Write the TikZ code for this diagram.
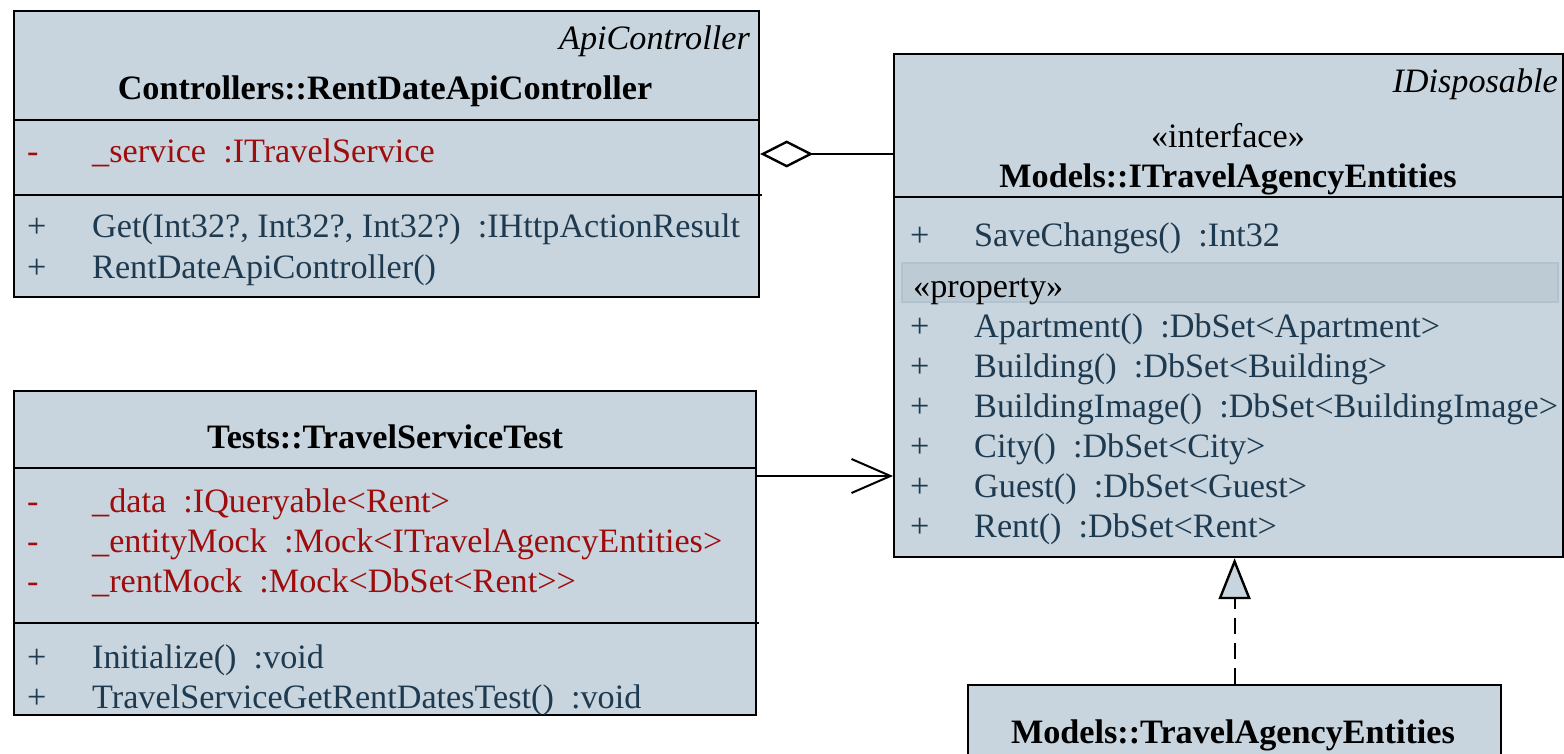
\documentclass[tikz,border=0pt]{standalone}
\usepackage{fontspec}
\setmainfont{Liberation Serif}
\usetikzlibrary{arrows.meta}

\definecolor{umlfill}{RGB}{200,213,222}
\definecolor{umlband}{RGB}{189,203,213}
\definecolor{umlbandline}{RGB}{178,195,207}
\definecolor{umlred}{RGB}{158,12,12}
\definecolor{umlblue}{RGB}{30,58,80}

\newcommand{\umlsize}{\fontsize{34.2}{40}\selectfont}

\tikzset{
	umlbox/.style={draw, line width=2.2pt, fill=umlfill, anchor=north west, inner sep=0pt},
	txt/.style={inner sep=0pt, font=\umlsize},
	title/.style={inner sep=0pt, anchor=base, font=\umlsize\bfseries},
	base/.style={inner sep=0pt, anchor=base east, font=\umlsize\itshape},
	stereo/.style={txt, anchor=base},
	attr/.style={txt, anchor=base west, text=umlred},
	oper/.style={txt, anchor=base west, text=umlblue},
	sep/.style={line width=2.2pt},
}

\begin{document}
\begin{tikzpicture}[x=1pt, y=-1pt]
				\useasboundingbox (0,0) rectangle (1564,754);
				% RentDateApiController
				\node[umlbox, minimum width=745pt, minimum height=286pt] (ctrl) at (13,10) {};
				\node[base] (ctrlbase) at (750,50) {ApiController};
				\node[title] (ctrlname) at (385,100) {Controllers::RentDateApiController};
				\draw[sep] (13,120) -- (758,120);
				\draw[sep] (13,195) -- (762,195);
				\node[attr] (ctrlv1) at (27,163) {-};
				\node[attr] (ctrla1) at (92,163) {\_service~~:ITravelService};
				\node[oper] (ctrlv2) at (27,238) {+};
				\node[oper] (ctrlo1) at (92,238) {Get(Int32?, Int32?, Int32?)~~:IHttpActionResult};
				\node[oper] (ctrlv3) at (27,278) {+};
				\node[oper] (ctrlo2) at (92,278) {RentDateApiController()};
				% ITravelAgencyEntities
				\node[umlbox, minimum width=669pt, minimum height=503pt] (ient) at (893,53) {};
				\node[base] (ientbase) at (1558,93) {IDisposable};
				\node[stereo] (ientstereo) at (1228,148) {«interface»};
				\node[title] (ientname) at (1228,188) {Models::ITravelAgencyEntities};
				\draw[sep] (893,197) -- (1562,197);
				\node[oper] (ientv0) at (910,247) {+};
				\node[oper] (iento0) at (974,247) {SaveChanges()~~:Int32};
				\draw[umlbandline, line width=1.5pt, fill=umlband] (902,263) rectangle (1558,302);
				\node[txt, anchor=base west] (ientprop) at (913,297) {«property»};
				\node[oper] (ientv1) at (910,337) {+};
				\node[oper] (iento1) at (974,337) {Apartment()~~:DbSet<Apartment>};
				\node[oper] (ientv2) at (910,377) {+};
				\node[oper] (iento2) at (974,377) {Building()~~:DbSet<Building>};
				\node[oper] (ientv3) at (910,417) {+};
				\node[oper] (iento3) at (974,417) {BuildingImage()~~:DbSet<BuildingImage>};
				\node[oper] (ientv4) at (910,457) {+};
				\node[oper] (iento4) at (974,457) {City()~~:DbSet<City>};
				\node[oper] (ientv5) at (910,497) {+};
				\node[oper] (iento5) at (974,497) {Guest()~~:DbSet<Guest>};
				\node[oper] (ientv6) at (910,537) {+};
				\node[oper] (iento6) at (974,537) {Rent()~~:DbSet<Rent>};
				% TravelServiceTest
				\node[umlbox, minimum width=742pt, minimum height=324pt] (test) at (13,390) {};
				\node[title] (testname) at (385,448) {Tests::TravelServiceTest};
				\draw[sep] (13,468) -- (755,468);
				\draw[sep] (13,623) -- (759,623);
				\node[attr] (testv1) at (27,512) {-};
				\node[attr] (testa1) at (92,512) {\_data~~:IQueryable<Rent>};
				\node[attr] (testv2) at (27,552) {-};
				\node[attr] (testa2) at (92,552) {\_entityMock~~:Mock<ITravelAgencyEntities>};
				\node[attr] (testv3) at (27,592) {-};
				\node[attr] (testa3) at (92,592) {\_rentMock~~:Mock<DbSet<Rent>{}>};
				\node[oper] (testv4) at (27,668) {+};
				\node[oper] (testo1) at (92,668) {Initialize()~~:void};
				\node[oper] (testv5) at (27,708) {+};
				\node[oper] (testo2) at (92,708) {TravelServiceGetRentDatesTest()~~:void};
				% TravelAgencyEntities
				\node[umlbox, minimum width=533pt, minimum height=90pt] (tae) at (967,684) {};
				\node[title] (taename) at (1233,743) {Models::TravelAgencyEntities};
				% connectors
				\coordinate (agg) at (0,154);
				\coordinate (dep) at (0,476);
				\draw[line width=2pt, -{Diamond[open, length=53pt, width=27pt, line width=2.4pt]}] (ient.west |- agg) -- (ctrl.east |- agg);
				\draw[line width=2pt, -{Straight Barb[length=39pt, width=34pt]}] (test.east |- dep) -- (ient.west |- dep);
				\draw[line width=2pt, dash pattern=on 16pt off 9pt, -{Triangle[open, fill=umlfill, length=41pt, width=32pt, line width=2.4pt]}] (tae.north) -- (tae.north |- ient.south);
			\end{tikzpicture}
\end{document}
